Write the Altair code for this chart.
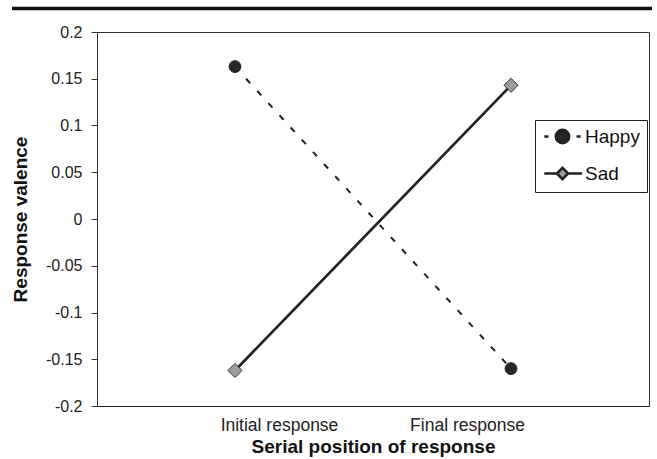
import altair as alt
import pandas as pd

# ---- data ----
categories = ["Initial response", "Final response"]
groups = ["Happy", "Sad"]
happy_values = [0.163, -0.160]
sad_values = [-0.162, 0.143]
y_ticks = [-0.2, -0.15, -0.1, -0.05, 0, 0.05, 0.1, 0.15, 0.2]

rows = []
for g, vals in zip(groups, [happy_values, sad_values]):
    for c, v in zip(categories, vals):
        rows.append({"group": g, "position": c, "valence": v})
df = pd.DataFrame(rows)
legend_df = pd.DataFrame({"series": groups})

FONT = "Liberation Sans"
W, H = 552, 374

y_scale = alt.Scale(domain=[-0.2, 0.2], nice=False, zero=False)
y_axis = alt.Axis(
    values=y_ticks,
    labelExpr="toString(round(datum.value*100)/100)",
    title="Response valence",
    grid=False,
    tickSize=6, tickColor="#333", domainColor="#333",
    labelFont=FONT, labelFontSize=16, labelColor="#222", labelPadding=9,
    titleFont=FONT, titleFontSize=19, titleFontWeight="bold", titleColor="#111",
    titleX=-77, titleY=H / 2, titleBaseline="middle", titleAngle=270,
)
y_enc = alt.Y("valence:Q", scale=y_scale, axis=y_axis)

x_data = alt.X("position:N", sort=categories,
               scale=alt.Scale(type="point", padding=0.5), axis=None)

base = alt.Chart(df)
happy = base.transform_filter(alt.datum.group == "Happy")
sad = base.transform_filter(alt.datum.group == "Sad")

happy_line = happy.mark_line(color="#222", strokeWidth=2.0, strokeDash=[6, 10.5]).encode(x=x_data, y=y_enc)
sad_line = sad.mark_line(color="#222", strokeWidth=2.7).encode(x=x_data, y=y_enc)

happy_pts = happy.mark_point(shape="circle", filled=True, fill="#262626", stroke="#222",
                             strokeWidth=1, size=140, opacity=1).encode(x=x_data, y=y_enc)
sad_pts = sad.mark_point(shape="diamond", filled=True, fill="#9c9c9c", stroke="#333",
                         strokeWidth=1, size=200, opacity=1).encode(x=x_data, y=y_enc)

# legend symbols: line + marker, as in the original
happy_sym = "M-2.6,0H-2.0M-0.95,0A0.95,0.95,0,1,0,0.95,0A0.95,0.95,0,1,0,-0.95,0ZM2.0,0H2.6"
sad_sym = "M-2.6,0H-0.8M0.8,0H2.8M0,-0.8L0.8,0L0,0.8L-0.8,0Z"

leg = alt.Legend(
    title=None, orient="none", legendX=438, legendY=88,
    strokeColor="#222", fillColor="white", padding=7,
    labelFont=FONT, labelFontSize=19, labelColor="#111",
    symbolSize=196, symbolOpacity=1, symbolOffset=11, labelOffset=13,
    rowPadding=13, symbolStrokeWidth=2.6, symbolStrokeColor="#222",
)

legend_layer = alt.Chart(legend_df).mark_point(
    filled=True, opacity=0, size=196, strokeWidth=2.6
).encode(
    shape=alt.Shape("series:N", scale=alt.Scale(domain=groups, range=[happy_sym, sad_sym]), legend=leg),
    fill=alt.Fill("series:N", scale=alt.Scale(domain=groups, range=["#262626", "#9c9c9c"]), legend=leg),
    stroke=alt.Stroke("series:N", scale=alt.Scale(domain=groups, range=["#222222", "#222222"]), legend=leg),
)

axis_layer = alt.Chart(df).mark_point(opacity=0).encode(
    x=alt.X("position:N", sort=categories,
            scale=alt.Scale(type="point", padding=0.968),
            axis=alt.Axis(title="Serial position of response", labelAngle=0, ticks=False,
                          domainColor="#222", labelFont=FONT, labelFontSize=17.5, labelColor="#222",
                          labelPadding=24, labelBaseline="alphabetic",
                          titleFont=FONT, titleFontSize=19, titleFontWeight="bold", titleColor="#111",
                          titleY=46, titleBaseline="alphabetic")),
    y=y_enc,
)

top_rule = alt.Chart(pd.DataFrame({"k": [0]})).mark_rule(color="#111", strokeWidth=3.5).encode(
    x=alt.value(-85), x2=alt.value(555), y=alt.value(-23.5)
)

chart = alt.layer(
    top_rule, axis_layer, happy_line, sad_line, happy_pts, sad_pts, legend_layer
).resolve_scale(
    x="independent"
).properties(
    width=W, height=H,
    padding={"left": 97, "top": 32, "right": 8, "bottom": 53},
    autosize=alt.AutoSizeParams(type="none"),
    background="white",
).configure_view(stroke="#333", strokeWidth=1)

chart.save("out.html", embed_options={"renderer": "svg", "actions": False})
